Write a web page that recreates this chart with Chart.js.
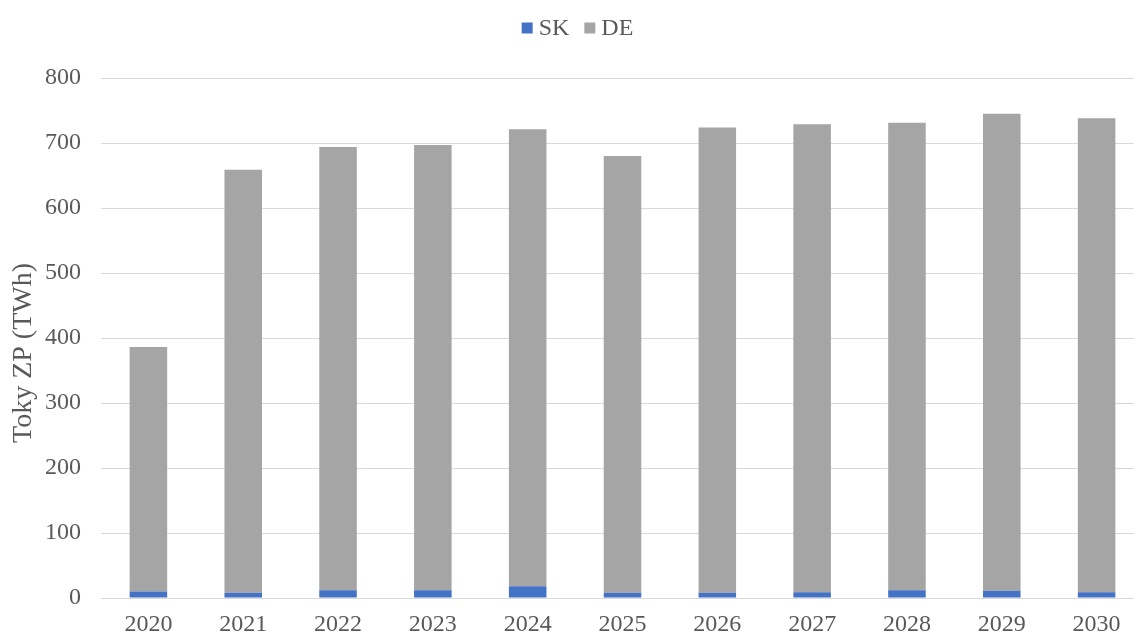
<!DOCTYPE html>
<html>
<head>
<meta charset="utf-8">
<script src="https://cdn.jsdelivr.net/npm/chart.js@4/dist/chart.umd.min.js"></script>
<style>
  html, body { margin: 0; padding: 0; background: #fff; overflow: hidden; }
  #wrap { width: 1134px; height: 637px; overflow: hidden; }
</style>
</head>
<body>
<div id="wrap"><canvas id="c" width="1155" height="637"></canvas></div>
<script>
// Years on the category axis
const years = ['2020', '2021', '2022', '2023', '2024', '2025', '2026', '2027', '2028', '2029', '2030'];
// Flows in TWh, stacked: SK at the bottom, DE on top
const skValues = [10, 8, 12, 12, 18, 8, 8, 9, 12, 11, 9];
const deValues = [376, 651, 682, 685, 703, 672, 716, 720, 719, 734, 729];
// Value axis ticks
const yTicks = [0, 100, 200, 300, 400, 500, 600, 700, 800];
const yTitle = 'Toky ZP (TWh)';

const FONT = '"Liberation Serif", "Times New Roman", serif';
const TEXT = '#595959';
const GRID = '#D9D9D9';

// Compact legend row centred above the plot: square swatch, short gap, label
const compactLegend = {
  id: 'compactLegend',
  afterDraw(chart) {
    const ctx = chart.ctx;
    const box = 11, gap = 6, itemGap = 15, cy = 28;
    ctx.save();
    ctx.font = '24px ' + FONT;
    ctx.textBaseline = 'middle';
    const items = chart.data.datasets.map(ds => ({
      text: ds.label, color: ds.backgroundColor, w: ctx.measureText(ds.label).width
    }));
    const total = items.reduce((s, it) => s + box + gap + it.w, 0) + itemGap * (items.length - 1);
    let x = chart.width / 2 - total / 2;
    items.forEach(it => {
      ctx.fillStyle = it.color;
      ctx.fillRect(x, cy - box / 2, box, box);
      x += box + gap;
      ctx.fillStyle = TEXT;
      ctx.textAlign = 'left';
      ctx.fillText(it.text, x, cy + 1);
      x += it.w + itemGap;
    });
    ctx.restore();
  }
};

// Rotated value-axis title, set slightly below the plot's vertical centre
const axisTitle = {
  id: 'axisTitle',
  afterDraw(chart) {
    const ctx = chart.ctx;
    const area = chart.chartArea;
    ctx.save();
    ctx.font = '28px ' + FONT;
    ctx.fillStyle = TEXT;
    ctx.textAlign = 'center';
    ctx.textBaseline = 'middle';
    ctx.translate(24, (area.top + area.bottom) / 2 + 15);
    ctx.rotate(-Math.PI / 2);
    ctx.fillText(yTitle, 0, 0);
    ctx.restore();
  }
};

new Chart(document.getElementById('c'), {
  type: 'bar',
  data: {
    labels: years,
    datasets: [
      { label: 'SK', data: skValues, backgroundColor: '#4472C4', borderWidth: 0,
        categoryPercentage: 1, barPercentage: 0.396 },
      { label: 'DE', data: deValues, backgroundColor: '#A5A5A5', borderWidth: 0,
        categoryPercentage: 1, barPercentage: 0.396 }
    ]
  },
  plugins: [compactLegend, axisTitle],
  options: {
    responsive: false,
    animation: false,
    layout: { padding: { top: 78, left: 0, right: 11, bottom: 0 } },
    plugins: {
      tooltip: { enabled: false },
      legend: { display: false }
    },
    scales: {
      x: {
        stacked: true,
        grid: { display: false },
        border: { display: true, color: GRID, width: 1 },
        afterFit: (axis) => { axis.height = 39; },
        ticks: { color: TEXT, font: { family: FONT, size: 24 }, padding: 4, maxRotation: 0 }
      },
      y: {
        stacked: true,
        min: 0, max: 800,
        afterBuildTicks: (axis) => { axis.ticks = yTicks.map(v => ({ value: v })); },
        afterFit: (axis) => { axis.width = 101; },
        grid: { color: GRID, lineWidth: 1, drawTicks: false },
        border: { display: false },
        ticks: { color: TEXT, font: { family: FONT, size: 24 }, padding: 20 },
        title: { display: false }
      }
    }
  }
});
</script>
</body>
</html>
